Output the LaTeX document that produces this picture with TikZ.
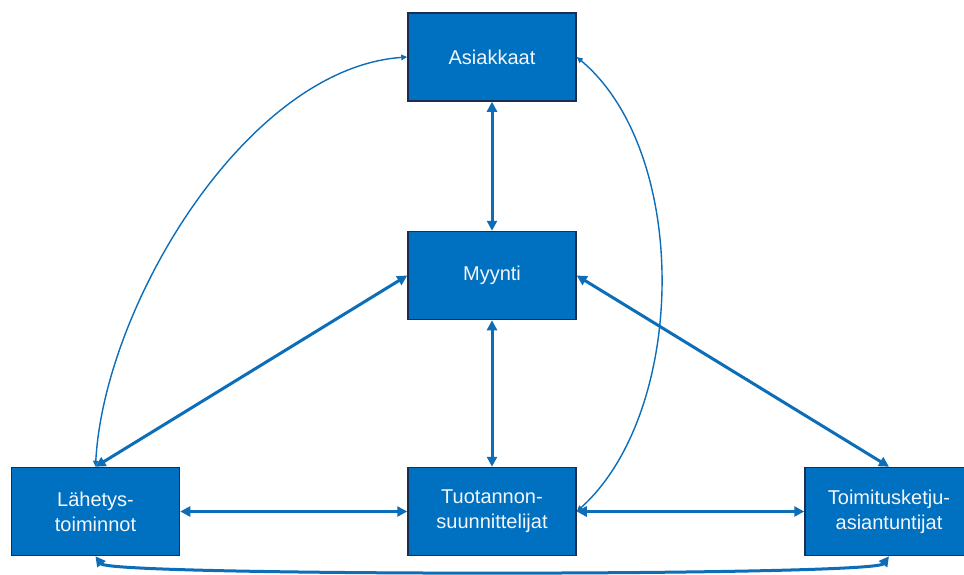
\documentclass[tikz,border=0pt]{standalone}
\usepackage{fontspec}
\setmainfont{Liberation Sans}
\usetikzlibrary{arrows.meta}
\definecolor{boxblue}{HTML}{0070C0}
\definecolor{boxedge}{HTML}{1B2E4F}
\definecolor{linkblue}{HTML}{0C6DB9}
\definecolor{labelwhite}{HTML}{F4F6FA}
\tikzset{
  unit/.style={draw=boxedge, line width=1.5pt, fill=boxblue,
    minimum width=168pt, minimum height=88pt, inner sep=0pt,
    text=labelwhite, align=center, font=\fontsize{20}{25}\selectfont},
  flow/.style={draw=linkblue, line width=3pt,
    {Triangle[length=10pt,width=10pt]}-{Triangle[length=10pt,width=10pt]}},
  link/.style={draw=linkblue, line width=1.4pt,
    {Triangle[length=6pt,width=5.5pt]}-{Triangle[length=6pt,width=5.5pt]}}
}
\begin{document}
\begin{tikzpicture}[x=1pt,y=1pt]
  \useasboundingbox (0,0) rectangle (964,-574);
  \fill[white] (0,0) rectangle (964,-574);

  % organisational units
  \node[unit] (asiakkaat) at (492,-57)    {Asiakkaat};
  \node[unit] (myynti)    at (492,-275.5) {Myynti};
  \node[unit] (lahetys)   at (95.5,-511.5) {Lähetys-\\toiminnot};
  \node[unit] (tuotanto)  at (492,-511.5) {Tuotannon-\\suunnittelijat};
  \node[unit] (toimitus)  at (889,-511.5) {Toimitusketju-\\asiantuntijat};

  % main information flows
  \draw[flow] (asiakkaat) -- (myynti);
  \draw[flow] (myynti) -- (tuotanto);
  \draw[flow] (myynti.west) -- (lahetys.north);
  \draw[flow] (myynti.east) -- (toimitus.north);
  \draw[flow] (lahetys) -- (tuotanto);
  \draw[flow] (tuotanto) -- (toimitus);
  \draw[flow] (lahetys.south) .. controls +(15,-20) and +(-15,-20) .. (toimitus.south);

  % direct customer contacts
  \draw[link] (lahetys.north) to[out=87, in=184, looseness=0.8] (asiakkaat.west);
  \draw[link] (asiakkaat.east) to[out=-40, in=42, looseness=0.84] (tuotanto.east);
\end{tikzpicture}
\end{document}
